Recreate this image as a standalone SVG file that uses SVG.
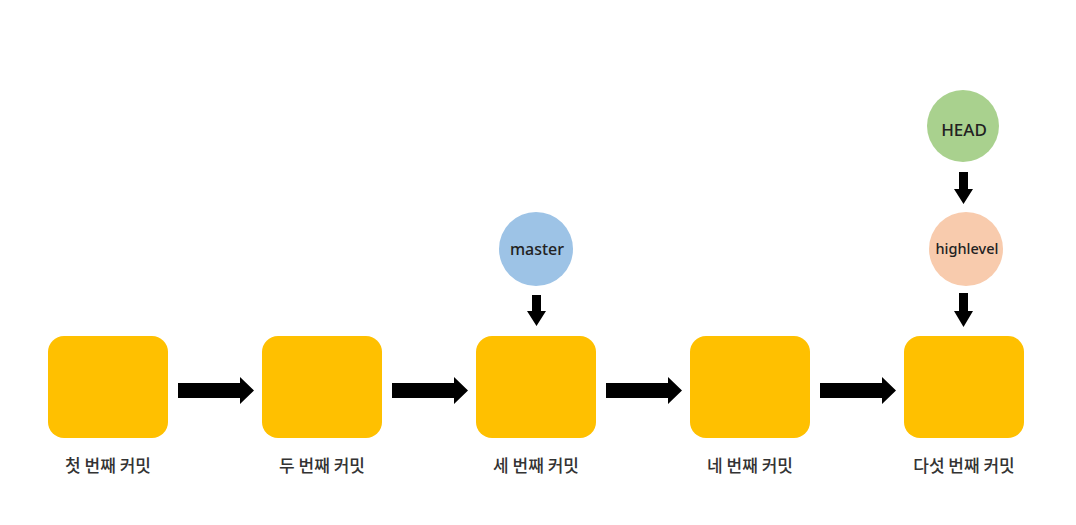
<svg xmlns="http://www.w3.org/2000/svg" width="1076" height="525" viewBox="0 0 1076 525">
<defs>
<style>
.commit{fill:#ffc000;}
.lbl{font-family:"Noto Sans CJK KR","Noto Sans",sans-serif;font-size:17px;font-weight:500;fill:#333;text-anchor:middle;}
.ref{font-family:"Noto Sans","Open Sans",sans-serif;font-size:16px;font-weight:500;fill:#222;text-anchor:middle;}
.arr{fill:#000;}
</style>
</defs>
<rect width="1076" height="525" fill="#fff"/>
<g id="commit1"><rect class="commit" x="48" y="336" width="120" height="102" rx="16"/><text class="lbl" x="108" y="472">첫 번째 커밋</text></g>
<g id="commit2"><rect class="commit" x="262" y="336" width="120" height="102" rx="16"/><text class="lbl" x="322" y="472">두 번째 커밋</text></g>
<g id="commit3"><rect class="commit" x="476" y="336" width="120" height="102" rx="16"/><text class="lbl" x="536" y="472">세 번째 커밋</text></g>
<g id="commit4"><rect class="commit" x="690" y="336" width="120" height="102" rx="16"/><text class="lbl" x="750" y="472">네 번째 커밋</text></g>
<g id="commit5"><rect class="commit" x="904" y="336" width="120" height="102" rx="16"/><text class="lbl" x="964" y="472">다섯 번째 커밋</text></g>
<g id="master"><circle cx="536" cy="249" r="37" fill="#9dc3e6"/><text class="ref" x="537" y="255">master</text></g>
<g id="HEAD"><circle cx="963" cy="126" r="36" fill="#a9d18e"/><text class="ref" x="964" y="136" style="font-size:17px">HEAD</text></g>
<g id="highlevel"><circle cx="966" cy="249" r="37" fill="#f8cbad"/><text class="ref" x="967" y="254" style="font-size:14.5px">highlevel</text></g>
<g id="connectors">
<polygon class="arr" points="178,383 240,383 240,377 254,390.5 240,404 240,398 178,398"/>
<polygon class="arr" points="392,383 454,383 454,377 468,390.5 454,404 454,398 392,398"/>
<polygon class="arr" points="606,383 668,383 668,377 682,390.5 668,404 668,398 606,398"/>
<polygon class="arr" points="820,383 882,383 882,377 896,390.5 882,404 882,398 820,398"/>
<polygon class="arr" points="532,295 541,295 541,311 546,311 536.5,326 527,311 532,311"/>
<polygon class="arr" points="959,172 968,172 968,189 973,189 963.5,204 954,189 959,189"/>
<polygon class="arr" points="959,293 968,293 968,311 973,311 963.5,327 954,311 959,311"/>
</g>
</svg>
